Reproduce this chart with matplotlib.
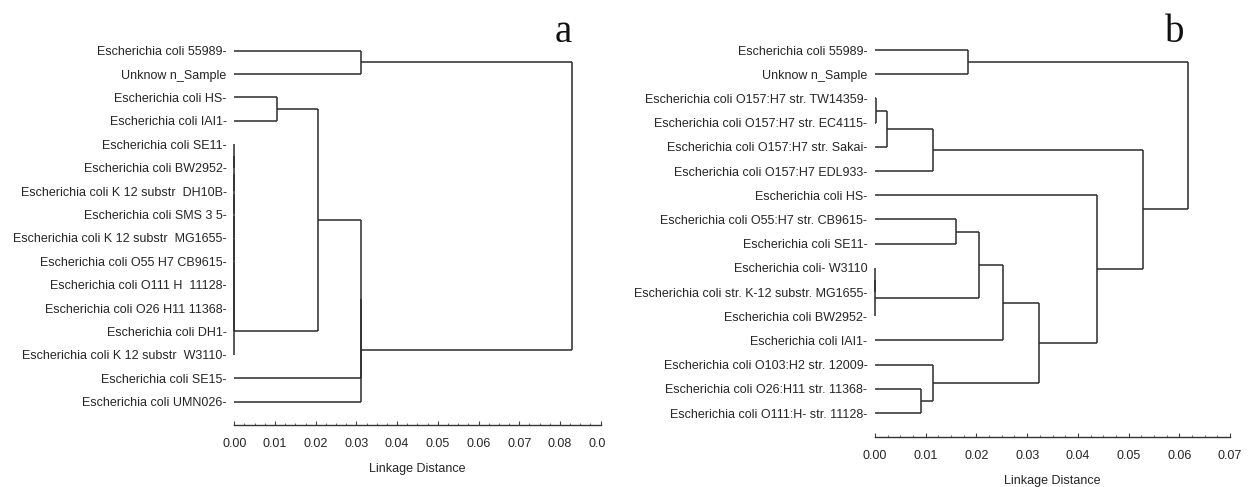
import matplotlib
matplotlib.use("Agg")
import matplotlib.pyplot as plt
from matplotlib.ticker import MultipleLocator, FormatStrFormatter
from matplotlib.transforms import Bbox, TransformedBbox

plt.rcParams['font.family'] = ['Liberation Sans', 'DejaVu Sans']

# ---- Panel a: leaves (top to bottom) and agglomeration steps ----
leaves_a = [
    "Escherichia coli 55989-",
    "Unknow n_Sample",
    "Escherichia coli HS-",
    "Escherichia coli IAI1-",
    "Escherichia coli SE11-",
    "Escherichia coli BW2952-",
    "Escherichia coli K 12 substr  DH10B-",
    "Escherichia coli SMS 3 5-",
    "Escherichia coli K 12 substr  MG1655-",
    "Escherichia coli O55 H7 CB9615-",
    "Escherichia coli O111 H  11128-",
    "Escherichia coli O26 H11 11368-",
    "Escherichia coli DH1-",
    "Escherichia coli K 12 substr  W3110-",
    "Escherichia coli SE15-",
    "Escherichia coli UMN026-",
]
# (child, child, linkage distance); ids >= len(leaves) refer to earlier merges
merges_a = [
    (4, 5, 0.0), (16, 6, 0.0), (17, 7, 0.0), (18, 8, 0.0), (19, 9, 0.0),
    (20, 10, 0.0), (21, 11, 0.0), (22, 12, 0.0), (23, 13, 0.0),
    (2, 3, 0.0104),
    (25, 24, 0.0206),
    (26, 14, 0.0311),
    (27, 15, 0.0311),
    (0, 1, 0.0311),
    (29, 28, 0.0830),
]
ticks_a = [0.00, 0.01, 0.02, 0.03, 0.04, 0.05, 0.06, 0.07, 0.08, 0.09]

# ---- Panel b ----
leaves_b = [
    "Escherichia coli 55989-",
    "Unknow n_Sample",
    "Escherichia coli O157:H7 str. TW14359-",
    "Escherichia coli O157:H7 str. EC4115-",
    "Escherichia coli O157:H7 str. Sakai-",
    "Escherichia coli O157:H7 EDL933-",
    "Escherichia coli HS-",
    "Escherichia coli O55:H7 str. CB9615-",
    "Escherichia coli SE11-",
    "Escherichia coli- W3110",
    "Escherichia coli str. K-12 substr. MG1655-",
    "Escherichia coli BW2952-",
    "Escherichia coli IAI1-",
    "Escherichia coli O103:H2 str. 12009-",
    "Escherichia coli O26:H11 str. 11368-",
    "Escherichia coli O111:H- str. 11128-",
]
merges_b = [
    (2, 3, 0.0002),
    (16, 4, 0.0023),
    (17, 5, 0.0115),
    (7, 8, 0.0160),
    (9, 10, 0.0),
    (20, 11, 0.0),
    (19, 21, 0.0206),
    (22, 12, 0.0253),
    (14, 15, 0.0091),
    (13, 24, 0.0115),
    (23, 25, 0.0323),
    (6, 26, 0.0437),
    (18, 27, 0.0528),
    (0, 1, 0.0184),
    (29, 28, 0.0618),
]
ticks_b = [0.00, 0.01, 0.02, 0.03, 0.04, 0.05, 0.06, 0.07]

LINE = '#2b2b2b'
TEXT = '#262626'


def draw_tree(ax, leaves, merges, ticks):
    n = len(leaves)
    ypos = {i: float(i) for i in range(n)}
    height = {i: 0.0 for i in range(n)}
    for k, (a, b, d) in enumerate(merges):
        ax.plot([d, d], [ypos[a], ypos[b]], color=LINE, lw=1.1,
                solid_capstyle='butt', clip_on=False)
        for c in (a, b):
            ax.plot([height[c], d], [ypos[c], ypos[c]], color=LINE, lw=1.1,
                    solid_capstyle='butt', clip_on=False)
        ypos[n + k] = (ypos[a] + ypos[b]) / 2.0
        height[n + k] = d

    ax.set_xlim(ticks[0], ticks[-1])
    ax.set_ylim(n, -1)
    for s in ('top', 'right', 'left'):
        ax.spines[s].set_visible(False)
    ax.spines['bottom'].set_color('#333333')
    ax.spines['bottom'].set_linewidth(1.0)

    ax.set_yticks(range(n), leaves)
    ax.tick_params(axis='y', length=0, pad=5.5, labelsize=9, labelcolor=TEXT)

    ax.set_xticks(ticks)
    ax.xaxis.set_major_formatter(FormatStrFormatter('%.2f'))
    ax.xaxis.set_minor_locator(MultipleLocator(0.0025))
    ax.tick_params(axis='x', which='major', direction='in', length=3.2,
                   width=0.8, color='#444444', pad=9.5, labelsize=9,
                   labelcolor=TEXT)
    ax.tick_params(axis='x', which='minor', direction='in', length=1.8,
                   width=0.7, color='#666666')
    ax.set_xlabel('Linkage Distance', fontsize=9, color=TEXT, labelpad=9)


fig = plt.figure(figsize=(12.5, 4.87), dpi=100)

ax_a = fig.add_axes([234.3 / 1250, 1 - 425 / 487, 366.3 / 1250, (425 - 27.3) / 487])
draw_tree(ax_a, leaves_a, merges_a, ticks_a)

ax_b = fig.add_axes([875 / 1250, 1 - 437.3 / 487, 355 / 1250, (437.3 - 25.8) / 487])
draw_tree(ax_b, leaves_b, merges_b, ticks_b)

fig.text(563 / 1250, 1 - 41.7 / 487, 'a', family='Liberation Serif',
         fontsize=28, ha='center', va='baseline', color='#111111')
fig.text(1175 / 1250, 1 - 41.7 / 487, 'b', family='Liberation Serif',
         fontsize=28, ha='center', va='baseline', color='#111111')

# the last tick label of panel a is cut at the right edge of its frame
fig.canvas.draw()
last = ax_a.get_xticklabels()[-1]
last.set_clip_box(TransformedBbox(Bbox.from_extents(0, 0, 605 / 1250, 1),
                                  fig.transFigure))
last.set_clip_on(True)

fig.savefig('out.png', dpi=100)
